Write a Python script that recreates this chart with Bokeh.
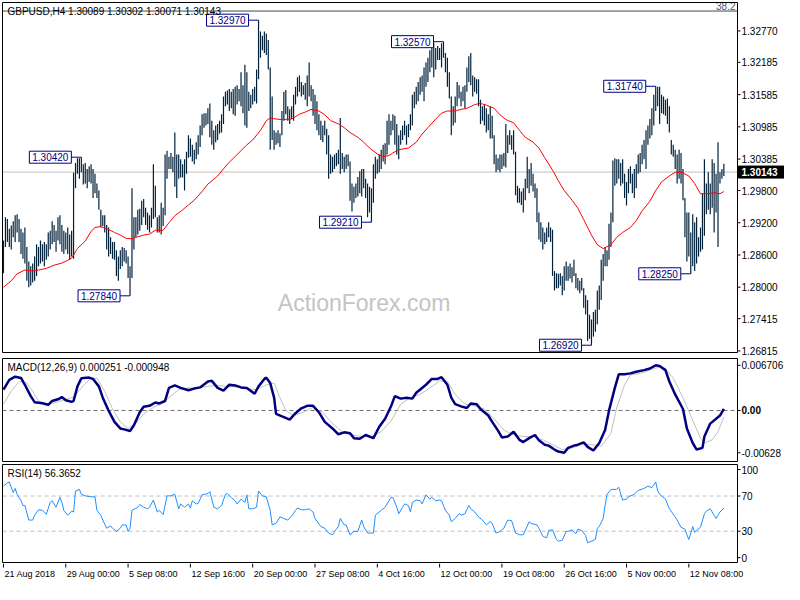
from bokeh.plotting import figure
from bokeh.layouts import column
from bokeh.models import Range1d
from bokeh.core.properties import value
from bokeh.embed import file_html
from bokeh.resources import INLINE

# ---------------- data ----------------
symbol_title = "GBPUSD,H4"
last_ohlc = [1.30089, 1.30302, 1.30071, 1.30143]

highs = [
    1.2887, 1.2930, 1.2927, 1.2909, 1.2915, 1.2923, 1.2934, 1.2936, 1.2927, 1.2909,
    1.2902, 1.2911, 1.2875, 1.2848, 1.2839, 1.2844, 1.2857, 1.2880, 1.2875, 1.2887,
    1.2880, 1.2884, 1.2880, 1.2902, 1.2905, 1.2923, 1.2916, 1.2905, 1.2930, 1.2934,
    1.2916, 1.2905, 1.2902, 1.2911, 1.2898, 1.2905, 1.3013, 1.3031, 1.3040, 1.3040,
    1.3042, 1.3029, 1.3031, 1.3020, 1.3025, 1.3029, 1.3020, 1.3011, 1.2993, 1.2980,
    1.2944, 1.2934, 1.2934, 1.2916, 1.2911, 1.2893, 1.2884, 1.2884, 1.2869, 1.2857,
    1.2869, 1.2875, 1.2873, 1.2869, 1.2857, 1.2839, 1.2984, 1.2930, 1.2930, 1.2944,
    1.2946, 1.2961, 1.2964, 1.2948, 1.2939, 1.2934, 1.2948, 1.3029, 1.2989, 1.2930,
    1.2934, 1.2957, 1.2948, 1.3047, 1.3054, 1.3043, 1.3050, 1.3043, 1.3088, 1.3047,
    1.3047, 1.3038, 1.3029, 1.3038, 1.3052, 1.3083, 1.3077, 1.3065, 1.3056, 1.3070,
    1.3083, 1.3101, 1.3122, 1.3124, 1.3124, 1.3133, 1.3142, 1.3110, 1.3092, 1.3101,
    1.3104, 1.3110, 1.3122, 1.3155, 1.3164, 1.3166, 1.3169, 1.3164, 1.3169, 1.3173,
    1.3176, 1.3169, 1.3200, 1.3176, 1.3214, 1.3200, 1.3164, 1.3158, 1.3169, 1.3173,
    1.3205, 1.3297, 1.3276, 1.3268, 1.3276, 1.3272, 1.3260, 1.3209, 1.3155, 1.3092,
    1.3088, 1.3092, 1.3086, 1.3128, 1.3164, 1.3167, 1.3137, 1.3131, 1.3137, 1.3158,
    1.3173, 1.3191, 1.3194, 1.3182, 1.3176, 1.3180, 1.3194, 1.3218, 1.3176, 1.3169,
    1.3158, 1.3146, 1.3122, 1.3110, 1.3101, 1.3110, 1.3095, 1.3083, 1.3047, 1.3043,
    1.3047, 1.3050, 1.3056, 1.3115, 1.3050, 1.3043, 1.3047, 1.3047, 1.3034, 1.2993,
    1.2987, 1.2993, 1.3005, 1.3016, 1.3020, 1.3020, 1.3002, 1.2993, 1.2987, 1.2984,
    1.3029, 1.3043, 1.3038, 1.3047, 1.3056, 1.3065, 1.3068, 1.3110, 1.3122, 1.3110,
    1.3122, 1.3119, 1.3104, 1.3083, 1.3092, 1.3101, 1.3110, 1.3101, 1.3104, 1.3122,
    1.3158, 1.3164, 1.3173, 1.3182, 1.3191, 1.3194, 1.3209, 1.3218, 1.3227, 1.3241,
    1.3245, 1.3254, 1.3245, 1.3249, 1.3245, 1.3254, 1.3257, 1.3236, 1.3227, 1.3200,
    1.3155, 1.3137, 1.3155, 1.3182, 1.3176, 1.3164, 1.3173, 1.3176, 1.3209, 1.3230,
    1.3236, 1.3194, 1.3191, 1.3187, 1.3187, 1.3149, 1.3137, 1.3140, 1.3133, 1.3122,
    1.3137, 1.3119, 1.3083, 1.3047, 1.3040, 1.3047, 1.3047, 1.3050, 1.3104, 1.3083,
    1.3092, 1.3083, 1.3092, 1.3052, 1.2989, 1.2984, 1.2978, 1.2984, 1.3002, 1.3043,
    1.3020, 1.3031, 1.3011, 1.2993, 1.2984, 1.2939, 1.2921, 1.2911, 1.2902, 1.2911,
    1.2921, 1.2911, 1.2907, 1.2830, 1.2826, 1.2825, 1.2826, 1.2821, 1.2839, 1.2848,
    1.2839, 1.2844, 1.2837, 1.2851, 1.2826, 1.2817, 1.2812, 1.2817, 1.2798, 1.2785,
    1.2776, 1.2749, 1.2740, 1.2754, 1.2758, 1.2794, 1.2803, 1.2851, 1.2862, 1.2875,
    1.2869, 1.2918, 1.2939, 1.3036, 1.3040, 1.3038, 1.3038, 1.3031, 1.3038, 1.3011,
    1.2996, 1.3020, 1.3025, 1.3011, 1.3020, 1.3029, 1.3047, 1.3050, 1.3065, 1.3074,
    1.3092, 1.3101, 1.3113, 1.3133, 1.3158, 1.3174, 1.3173, 1.3173, 1.3158, 1.3155,
    1.3149, 1.3151, 1.3137, 1.3074, 1.3065, 1.3056, 1.3047, 1.3056, 1.3050, 1.3020,
    1.2966, 1.2939, 1.2939, 1.2902, 1.2936, 1.2921, 1.2930, 1.2893, 1.2911, 1.2975,
    1.3038, 1.2993, 1.3014, 1.2993, 1.3038, 1.3031, 1.3011, 1.3070, 1.3014, 1.3020,
    1.3030,
]

lows = [
    1.2826, 1.2875, 1.2884, 1.2875, 1.2870, 1.2893, 1.2884, 1.2902, 1.2884, 1.2862,
    1.2853, 1.2844, 1.2812, 1.2800, 1.2803, 1.2809, 1.2812, 1.2821, 1.2839, 1.2844,
    1.2848, 1.2839, 1.2851, 1.2857, 1.2870, 1.2880, 1.2884, 1.2866, 1.2887, 1.2880,
    1.2866, 1.2862, 1.2870, 1.2862, 1.2851, 1.2857, 1.2853, 1.2984, 1.3011, 1.3002,
    1.3014, 1.2991, 1.2993, 1.2984, 1.2996, 1.2993, 1.2966, 1.2975, 1.2966, 1.2944,
    1.2911, 1.2914, 1.2902, 1.2870, 1.2857, 1.2862, 1.2853, 1.2851, 1.2821, 1.2812,
    1.2834, 1.2839, 1.2848, 1.2844, 1.2817, 1.2784, 1.2817, 1.2870, 1.2893, 1.2898,
    1.2905, 1.2916, 1.2930, 1.2916, 1.2907, 1.2902, 1.2911, 1.2927, 1.2930, 1.2902,
    1.2902, 1.2898, 1.2914, 1.2934, 1.3002, 1.3020, 1.3020, 1.3014, 1.2987, 1.2966,
    1.3002, 1.3004, 1.3004, 1.2980, 1.3011, 1.3041, 1.3043, 1.3034, 1.3029, 1.3038,
    1.3047, 1.3061, 1.3083, 1.3097, 1.3101, 1.3104, 1.3079, 1.3065, 1.3056, 1.3070,
    1.3074, 1.3086, 1.3088, 1.3104, 1.3137, 1.3140, 1.3128, 1.3133, 1.3122, 1.3119,
    1.3140, 1.3146, 1.3137, 1.3124, 1.3101, 1.3097, 1.3128, 1.3133, 1.3140, 1.3146,
    1.3142, 1.3187, 1.3227, 1.3241, 1.3236, 1.3232, 1.3205, 1.3056, 1.3074, 1.3056,
    1.3065, 1.3068, 1.3061, 1.3083, 1.3110, 1.3122, 1.3110, 1.3104, 1.3113, 1.3110,
    1.3140, 1.3155, 1.3164, 1.3155, 1.3158, 1.3149, 1.3137, 1.3155, 1.3146, 1.3119,
    1.3104, 1.3092, 1.3083, 1.3074, 1.3070, 1.3083, 1.3047, 1.3002, 1.3011, 1.3014,
    1.3020, 1.3025, 1.3029, 1.3011, 1.3020, 1.3014, 1.3020, 1.3025, 1.2961, 1.2941,
    1.2957, 1.2966, 1.2969, 1.2975, 1.2969, 1.2984, 1.2966, 1.2930, 1.2939, 1.2921,
    1.2957, 1.3002, 1.3011, 1.3014, 1.3020, 1.3034, 1.3029, 1.3047, 1.3065, 1.3083,
    1.3092, 1.3065, 1.3047, 1.3038, 1.3065, 1.3074, 1.3083, 1.3065, 1.3079, 1.3092,
    1.3101, 1.3133, 1.3140, 1.3146, 1.3158, 1.3164, 1.3146, 1.3173, 1.3182, 1.3200,
    1.3209, 1.3191, 1.3205, 1.3223, 1.3223, 1.3209, 1.3227, 1.3200, 1.3173, 1.3151,
    1.3083, 1.3101, 1.3106, 1.3137, 1.3151, 1.3137, 1.3146, 1.3133, 1.3164, 1.3182,
    1.3176, 1.3155, 1.3164, 1.3160, 1.3137, 1.3104, 1.3110, 1.3101, 1.3088, 1.3092,
    1.3077, 1.3077, 1.3029, 1.3014, 1.3018, 1.3014, 1.3020, 1.3025, 1.3023, 1.3050,
    1.3065, 1.3056, 1.3047, 1.2971, 1.2957, 1.2957, 1.2953, 1.2939, 1.2962, 1.2984,
    1.2975, 1.2989, 1.2978, 1.2966, 1.2921, 1.2889, 1.2884, 1.2870, 1.2880, 1.2884,
    1.2893, 1.2884, 1.2821, 1.2794, 1.2798, 1.2798, 1.2803, 1.2785, 1.2794, 1.2812,
    1.2812, 1.2816, 1.2809, 1.2821, 1.2798, 1.2794, 1.2789, 1.2794, 1.2762, 1.2749,
    1.2700, 1.2704, 1.2692, 1.2708, 1.2717, 1.2731, 1.2758, 1.2776, 1.2812, 1.2839,
    1.2839, 1.2851, 1.2875, 1.2921, 1.2989, 1.2993, 1.3002, 1.2989, 1.2993, 1.2966,
    1.2952, 1.2975, 1.2993, 1.2975, 1.2966, 1.2984, 1.3011, 1.3014, 1.3029, 1.3038,
    1.3020, 1.3065, 1.3077, 1.3083, 1.3101, 1.3128, 1.3137, 1.3104, 1.3124, 1.3122,
    1.3119, 1.3104, 1.3088, 1.3047, 1.3043, 1.3020, 1.2993, 1.3002, 1.2993, 1.2962,
    1.2893, 1.2848, 1.2857, 1.2825, 1.2839, 1.2830, 1.2844, 1.2857, 1.2866, 1.2870,
    1.2896, 1.2936, 1.2944, 1.2936, 1.2948, 1.2902, 1.2939, 1.2875, 1.2993, 1.3002,
    1.3007,
]

ma_points = [
    (0, 1.2800), (4, 1.2812), (7, 1.2825), (11, 1.2832), (15, 1.2830), (18, 1.2832),
    (22, 1.2835), (26, 1.2841), (30, 1.2845), (33, 1.2850), (35, 1.2854), (38, 1.2872),
    (42, 1.2886), (45, 1.2904), (47, 1.2911), (50, 1.2913), (53, 1.2909), (57, 1.2902),
    (60, 1.2897), (63, 1.2891), (66, 1.2890), (68, 1.2893), (72, 1.2897), (75, 1.2899),
    (78, 1.2906), (82, 1.2906), (85, 1.2920), (88, 1.2933), (92, 1.2944), (95, 1.2953),
    (98, 1.2962), (102, 1.2978), (105, 1.2992), (110, 1.3007), (115, 1.3029), (120, 1.3047),
    (125, 1.3065), (128, 1.3074), (132, 1.3092), (135, 1.3110), (137, 1.3115), (140, 1.3113),
    (143, 1.3112), (148, 1.3113), (152, 1.3122), (155, 1.3126), (158, 1.3131), (162, 1.3128),
    (165, 1.3121), (168, 1.3110), (172, 1.3104), (175, 1.3097), (178, 1.3088), (182, 1.3079),
    (185, 1.3070), (188, 1.3059), (192, 1.3048), (195, 1.3043), (198, 1.3045), (200, 1.3050),
    (203, 1.3056), (208, 1.3059), (212, 1.3070), (215, 1.3085), (218, 1.3097), (222, 1.3113),
    (225, 1.3124), (228, 1.3128), (232, 1.3128), (235, 1.3131), (238, 1.3133), (242, 1.3140),
    (245, 1.3142), (248, 1.3139), (252, 1.3133), (255, 1.3121), (258, 1.3112), (262, 1.3106),
    (265, 1.3092), (268, 1.3079), (272, 1.3070), (275, 1.3059), (278, 1.3041), (282, 1.3018),
    (285, 1.2998), (288, 1.2980), (292, 1.2962), (295, 1.2947), (298, 1.2926), (302, 1.2897),
    (305, 1.2879), (308, 1.2872), (312, 1.2879), (315, 1.2893), (318, 1.2902), (322, 1.2911),
    (325, 1.2924), (328, 1.2942), (332, 1.2960), (335, 1.2980), (338, 1.2996), (342, 1.3007),
    (345, 1.3014), (348, 1.3014), (352, 1.3007), (355, 1.2993), (358, 1.2974), (362, 1.2974),
    (365, 1.2976), (368, 1.2974), (370, 1.2978),
]

macd_points = [
    (0, 0.00310), (3, 0.00455), (6, 0.00502), (9, 0.00483), (11, 0.00382), (14, 0.00214),
    (16, 0.00123), (20, 0.00108), (23, 0.00084), (25, 0.00141), (28, 0.00166), (30, 0.00199),
    (32, 0.00152), (35, 0.00127), (36, 0.00141), (38, 0.00358), (40, 0.00479), (44, 0.00488),
    (46, 0.00469), (49, 0.00358), (51, 0.00190), (54, -0.00003), (57, -0.00170), (60, -0.00267),
    (62, -0.00281), (65, -0.00306), (67, -0.00219), (70, -0.00026), (72, 0.00055), (75, 0.00069),
    (78, 0.00118), (80, 0.00104), (83, 0.00141), (85, 0.00335), (88, 0.00372), (91, 0.00335),
    (95, 0.00300), (98, 0.00325), (101, 0.00343), (105, 0.00430), (107, 0.00440), (110, 0.00335),
    (113, 0.00296), (116, 0.00382), (119, 0.00372), (122, 0.00343), (125, 0.00335), (129, 0.00248),
    (131, 0.00358), (134, 0.00469), (135, 0.00488), (137, 0.00407), (139, 0.00190), (140, -0.00051),
    (144, -0.00098), (147, -0.00137), (150, -0.00040), (153, 0.00032), (156, 0.00069), (159, 0.00069),
    (162, -0.00026), (165, -0.00170), (169, -0.00267), (172, -0.00354), (175, -0.00325), (178, -0.00339),
    (180, -0.00411), (183, -0.00421), (186, -0.00364), (190, -0.00411), (193, -0.00242), (196, -0.00123),
    (199, 0.00058), (201, 0.00214), (204, 0.00176), (207, 0.00190), (210, 0.00176), (212, 0.00263),
    (215, 0.00335), (217, 0.00382), (220, 0.00469), (223, 0.00469), (225, 0.00494), (228, 0.00382),
    (230, 0.00190), (232, 0.00094), (235, 0.00061), (238, 0.00036), (240, 0.00104), (243, 0.00094),
    (245, 0.00022), (249, -0.00075), (251, -0.00170), (254, -0.00300), (256, -0.00401), (259, -0.00387),
    (262, -0.00315), (265, -0.00436), (267, -0.00469), (270, -0.00411), (273, -0.00364), (275, -0.00444),
    (278, -0.00508), (280, -0.00522), (283, -0.00580), (285, -0.00610), (288, -0.00628), (290, -0.00556),
    (293, -0.00522), (295, -0.00508), (298, -0.00473), (300, -0.00541), (303, -0.00595), (306, -0.00483),
    (309, -0.00291), (311, -0.00003), (314, 0.00335), (316, 0.00537), (319, 0.00537), (322, 0.00551),
    (325, 0.00574), (329, 0.00599), (332, 0.00623), (335, 0.00671), (337, 0.00660), (340, 0.00599),
    (342, 0.00430), (345, 0.00238), (349, 0.00022), (351, -0.00267), (354, -0.00483), (356, -0.00580),
    (359, -0.00556), (360, -0.00387), (363, -0.00195), (365, -0.00147), (368, -0.00075), (370, 0.000251),
]

signal_points = [
    (0, 0.00094), (4, 0.00286), (8, 0.00430), (12, 0.00407), (15, 0.00286), (18, 0.00141),
    (22, 0.00094), (27, 0.00118), (32, 0.00166), (36, 0.00199), (40, 0.00335), (44, 0.00455),
    (48, 0.00479), (52, 0.00286), (56, 0.00022), (60, -0.00170), (64, -0.00267), (68, -0.00195),
    (72, -0.00051), (77, 0.00046), (81, 0.00094), (85, 0.00190), (90, 0.00310), (95, 0.00335),
    (100, 0.00335), (105, 0.00358), (110, 0.00372), (115, 0.00358), (120, 0.00349), (125, 0.00325),
    (130, 0.00310), (135, 0.00382), (139, 0.00407), (142, 0.00190), (145, -0.00003), (149, -0.00075),
    (154, -0.00026), (159, 0.00046), (164, -0.00026), (169, -0.00195), (174, -0.00315), (179, -0.00364),
    (184, -0.00387), (189, -0.00387), (194, -0.00315), (199, -0.00159), (204, 0.00094), (209, 0.00190),
    (214, 0.00238), (219, 0.00335), (224, 0.00440), (228, 0.00430), (232, 0.00238), (237, 0.00094),
    (242, 0.00069), (247, 0.00022), (252, -0.00123), (257, -0.00291), (262, -0.00364), (267, -0.00387),
    (272, -0.00387), (277, -0.00436), (282, -0.00508), (287, -0.00580), (292, -0.00556), (297, -0.00508),
    (302, -0.00508), (307, -0.00531), (312, -0.00339), (315, 0.00046), (319, 0.00382), (322, 0.00527),
    (327, 0.00551), (332, 0.00599), (337, 0.00646), (340, 0.00623), (344, 0.00479), (349, 0.00190),
    (354, -0.00147), (358, -0.00411), (360, -0.00483), (364, -0.00436), (367, -0.00315), (370, -0.000948),
]

rsi_points = [
    (0, 81.3), (2, 84.9), (3, 86.0), (5, 73.9), (6, 78.6), (7, 72.0), (9, 64.7), (10, 59.2),
    (11, 59.2), (13, 42.7), (15, 42.7), (16, 48.2), (18, 54.4), (20, 53.7), (21, 51.8), (22, 49.3),
    (24, 62.8), (25, 64.7), (27, 57.3), (29, 68.4), (30, 62.8), (31, 53.7), (33, 48.2), (35, 52.9),
    (36, 51.8), (37, 75.7), (39, 77.5), (40, 72.0), (42, 70.2), (45, 69.1), (47, 69.1), (48, 53.7),
    (50, 48.2), (51, 42.7), (53, 33.4), (55, 36.0), (56, 33.4), (58, 29.8), (60, 33.4), (61, 37.2),
    (63, 37.2), (64, 29.8), (65, 33.4), (66, 53.7), (69, 57.3), (70, 60.3), (72, 57.3), (74, 55.5),
    (75, 57.3), (77, 65.4), (79, 51.8), (80, 53.7), (82, 48.8), (84, 70.2), (86, 70.2), (88, 72.0),
    (90, 55.5), (91, 61.0), (93, 57.3), (95, 61.0), (96, 56.4), (97, 64.7), (99, 61.0), (100, 61.7),
    (102, 71.3), (105, 72.8), (106, 75.0), (108, 57.3), (110, 55.5), (112, 59.2), (114, 72.0), (115, 72.8),
    (117, 68.4), (119, 64.7), (120, 61.0), (122, 66.5), (124, 62.8), (125, 71.3), (126, 55.5), (128, 55.5),
    (130, 57.3), (131, 75.7), (133, 70.2), (135, 69.1), (137, 53.7), (138, 37.2), (140, 38.9), (142, 46.3),
    (144, 44.5), (146, 42.7), (148, 47.0), (150, 53.7), (151, 56.4), (153, 54.4), (155, 54.4), (157, 55.5),
    (159, 51.8), (160, 44.5), (163, 35.3), (165, 33.4), (167, 27.9), (169, 26.0), (170, 29.8), (172, 35.3),
    (173, 44.5), (175, 37.2), (176, 37.2), (178, 26.0), (180, 29.8), (182, 29.8), (184, 42.7), (185, 35.3),
    (187, 27.9), (190, 27.9), (191, 48.2), (194, 53.7), (196, 57.3), (198, 64.7), (199, 68.4), (200, 68.4),
    (202, 57.3), (203, 49.9), (205, 57.3), (206, 61.0), (208, 59.2), (209, 51.8), (210, 62.8), (212, 65.4),
    (214, 64.7), (215, 61.0), (217, 71.3), (219, 66.5), (220, 68.4), (222, 64.7), (224, 65.4), (225, 64.7),
    (227, 53.7), (229, 48.2), (230, 40.8), (232, 44.5), (234, 49.9), (235, 48.2), (237, 49.9), (239, 59.2),
    (240, 55.5), (242, 51.8), (244, 46.3), (246, 42.7), (248, 37.2), (250, 40.8), (251, 38.9), (253, 27.9),
    (255, 29.8), (257, 33.4), (259, 42.7), (261, 42.0), (263, 27.9), (265, 26.0), (267, 26.0), (270, 40.8),
    (271, 38.9), (274, 37.2), (275, 33.4), (277, 24.3), (279, 22.4), (280, 30.9), (282, 31.6), (284, 20.6),
    (285, 18.7), (287, 19.8), (289, 29.8), (290, 29.8), (292, 31.6), (294, 27.2), (295, 32.3), (297, 30.9),
    (299, 25.0), (300, 16.9), (302, 18.7), (304, 20.6), (305, 33.4), (306, 35.3), (308, 44.5), (309, 59.2),
    (310, 72.0), (312, 77.5), (315, 77.5), (316, 80.1), (318, 65.4), (320, 66.5), (321, 69.1), (324, 72.0),
    (326, 76.4), (329, 78.6), (331, 81.2), (333, 79.4), (335, 86.0), (336, 75.7), (337, 72.0), (340, 66.5),
    (342, 55.5), (345, 46.3), (346, 42.7), (348, 34.5), (350, 32.3), (351, 26.0), (352, 20.6), (354, 35.3),
    (355, 28.7), (356, 30.9), (358, 34.5), (360, 49.9), (361, 52.9), (363, 55.5), (365, 48.2), (366, 44.5),
    (368, 51.8), (370, 56.3652),
]

macd_last = 0.000251
signal_last = -0.000948
rsi_last = 56.3652

price_ticks = [1.32770, 1.32185, 1.31585, 1.30985, 1.30385, 1.29800,
               1.29200, 1.28600, 1.28000, 1.27415, 1.26815]
macd_ticks = [0.006706, 0.0, -0.00628]
macd_tick_labels = ["0.006706", "0.00", "-0.00628"]
rsi_ticks = [100, 70, 30, 0]
rsi_levels = [30, 70]
fib_level = 1.3314
fib_label = "38.2"

date_idx = [0, 32, 64, 96, 128, 160, 192, 224, 256, 288, 320, 352]
date_labels = ["21 Aug 2018", "29 Aug 00:00", "5 Sep 08:00", "12 Sep 16:00",
               "20 Sep 00:00", "27 Sep 08:00", "4 Oct 16:00", "12 Oct 00:00",
               "19 Oct 08:00", "26 Oct 16:00", "5 Nov 00:00", "12 Nov 08:00"]

callout_idx = [40, 65, 131, 189, 226, 302, 335, 353]
callout_kind = ["H", "L", "H", "L", "H", "L", "H", "L"]

# ---------------- layout / style ----------------
FONT = "Liberation Sans"
W = 784
LEFT = 2            # px left of panel box
FW = 735            # panel width in px
X0, X1 = -0.5, 377.0
PPB = FW / (X1 - X0)
XR = (X0 - LEFT / PPB, X0 + (W - LEFT) / PPB)
BAR = "#02223c"
NAVY = "#000080"


def ux(px):
    return px / PPB


def make_panel(pad_t, ph, pad_b, lo, hi):
    u = (hi - lo) / ph
    f = figure(width=W, height=pad_t + ph + pad_b,
               x_range=Range1d(*XR), y_range=Range1d(lo - pad_b * u, hi + pad_t * u),
               min_border=0, min_border_left=0, min_border_right=0,
               min_border_top=0, min_border_bottom=0,
               x_axis_location=None, y_axis_location=None,
               toolbar_location=None, output_backend="svg",
               background_fill_color="white", border_fill_color="white",
               outline_line_color=None)
    f.xgrid.visible = False
    f.ygrid.visible = False
    return f, u


def hline(f, y, color, dash="solid"):
    f.segment(x0=[X0], y0=[y], x1=[X1], y1=[y], line_color=color,
              line_width=1, line_dash=dash)


def frame_box(f, lo, hi):
    f.quad(left=[X0], right=[X1], bottom=[lo], top=[hi], fill_color=None,
           line_color="black", line_width=1)


def right_axis(f, ticks, labels, bold_zero=False):
    f.segment(x0=[X1] * len(ticks), y0=ticks, x1=[X1 + ux(3)] * len(ticks), y1=ticks,
              line_color="black", line_width=1)
    styles = ["bold" if (bold_zero and t == 0) else "normal" for t in ticks]
    f.text(x=[X1 + ux(4)] * len(ticks), y=ticks, text=labels,
           text_font=value(FONT), text_font_size="10px", text_color="black",
           text_font_style=styles, text_align="left", text_baseline="middle")


# ---------------- main price panel ----------------
M_LO, M_HI = 1.26785, 1.33299
p, mu = make_panel(2, 350, 5, M_LO, M_HI)

p.text(x=[X0 + 0.492 * (X1 - X0)], y=[M_LO + 0.141 * (M_HI - M_LO)],
       text=["ActionForex.com"], text_font=value(FONT), text_font_size="23px",
       text_color="#c4c4c4", text_align="center", text_baseline="middle")

hline(p, last_ohlc[3], "#c0c0c0")
hline(p, fib_level, "#3c4a50")

idx = list(range(len(highs)))
p.segment(x0=idx, y0=lows, x1=idx, y1=highs, line_color=BAR, line_width=1.2)
p.line([a for a, _ in ma_points], [v for _, v in ma_points],
       line_color="#ff0000", line_width=1)

# callouts (price labels at swing highs/lows)
conn = ux(10)
bw_px, bh_px = 42, 12
cx, cy, c0, c1, ct = [], [], [], [], []
for i, k in zip(callout_idx, callout_kind):
    price = highs[i] if k == "H" else lows[i]
    c0.append(i)
    c1.append(i - conn)
    cy.append(price)
    cx.append(i - conn - ux(bw_px / 2))
    ct.append(f"{price:.5f}")
p.segment(x0=c0, y0=cy, x1=c1, y1=cy, line_color=NAVY, line_width=1)
p.rect(x=cx, y=cy, width=bw_px, height=bh_px, width_units="screen",
       height_units="screen", fill_color="white", line_color=NAVY, line_width=1)
p.text(x=cx, y=cy, text=ct, text_font=value(FONT), text_font_size="10px",
       text_color=NAVY, text_align="center", text_baseline="middle")

title_text = symbol_title + "  " + " ".join(f"{v:.5f}" for v in last_ohlc)
p.text(x=[X0 + ux(5)], y=[fib_level], text=[title_text], text_font=value(FONT),
       text_font_size="10px", text_color="black", text_baseline="middle")
p.text(x=[X1 - ux(2)], y=[fib_level + 1 * mu], text=[fib_label], text_font=value(FONT),
       text_font_size="10px", text_color="#4a5a60", text_align="right",
       text_baseline="bottom")

frame_box(p, M_LO, M_HI)
right_axis(p, price_ticks, [f"{t:.5f}" for t in price_ticks])

# current price marker on the axis
box_w = W - LEFT - FW - 1
p.rect(x=[X1 + ux(1 + box_w / 2)], y=[last_ohlc[3]], width=box_w, height=12,
       width_units="screen", height_units="screen", fill_color="black",
       line_color="black")
p.text(x=[X1 + ux(4)], y=[last_ohlc[3]], text=[f"{last_ohlc[3]:.5f}"],
       text_font=value(FONT), text_font_size="10px", text_font_style="bold",
       text_color="white", text_align="left", text_baseline="middle")

# ---------------- MACD panel ----------------
D_LO, D_HI = -0.00758, 0.00772
m, du = make_panel(1, 103, 2, D_LO, D_HI)
hline(m, 0.0, "#707070", dash="4 3")
m.line([a for a, _ in signal_points], [v for _, v in signal_points],
       line_color="#c0c0c0", line_width=1)
m.line([a for a, _ in macd_points], [v for _, v in macd_points],
       line_color=NAVY, line_width=2.5)
m.text(x=[X0 + ux(5)], y=[D_HI - 3 * du],
       text=[f"MACD(12,26,9) {macd_last:.6f} {signal_last:.6f}"],
       text_font=value(FONT), text_font_size="10px", text_color="black",
       text_baseline="top")
frame_box(m, D_LO, D_HI)
right_axis(m, macd_ticks, macd_tick_labels, bold_zero=True)

# ---------------- RSI panel ----------------
R_LO, R_HI = -5.5, 105.8
r, ru = make_panel(1, 98, 1, R_LO, R_HI)
for lv in rsi_levels:
    hline(r, lv, "#c0c0c0", dash="4 3")
r.line([a for a, _ in rsi_points], [v for _, v in rsi_points],
       line_color="#1e90ff", line_width=1)
r.text(x=[X0 + ux(5)], y=[R_HI - 3 * ru], text=[f"RSI(14) {rsi_last:.4f}"],
       text_font=value(FONT), text_font_size="10px", text_color="black",
       text_baseline="top")
frame_box(r, R_LO, R_HI)
right_axis(r, rsi_ticks, [str(t) for t in rsi_ticks])

# ---------------- date strip ----------------
SH = 21
s = figure(width=W, height=SH, x_range=Range1d(*XR), y_range=Range1d(0, SH),
           min_border=0, min_border_left=0, min_border_right=0,
           min_border_top=0, min_border_bottom=0,
           x_axis_location=None, y_axis_location=None,
           toolbar_location=None, output_backend="svg",
           background_fill_color="white", border_fill_color="white",
           outline_line_color=None)
s.xgrid.visible = False
s.ygrid.visible = False
s.segment(x0=date_idx, y0=[SH] * len(date_idx), x1=date_idx,
          y1=[SH - 4] * len(date_idx), line_color="black", line_width=1)
s.text(x=[i + ux(1) for i in date_idx], y=[SH - 5] * len(date_idx), text=date_labels,
       text_font=value(FONT), text_font_size="9px", text_color="black",
       text_align="left", text_baseline="top")

layout = column(p, m, r, s)
open("out.html", "w").write(file_html(layout, INLINE))
